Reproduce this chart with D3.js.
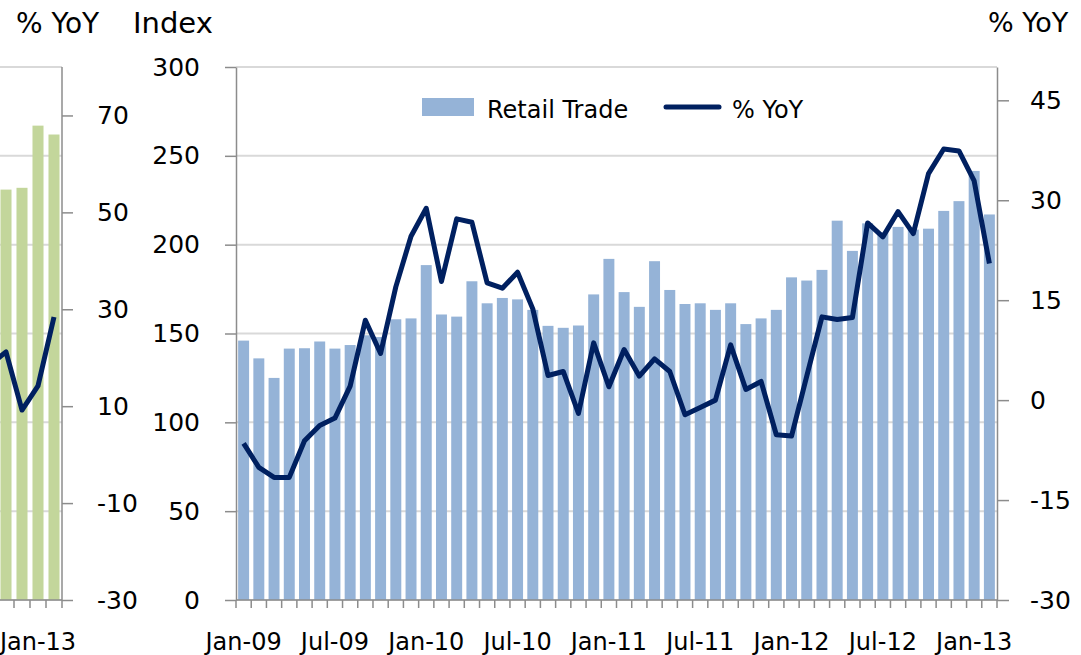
<!DOCTYPE html>
<html>
<head>
<meta charset="utf-8">
<script src="https://cdn.jsdelivr.net/npm/d3@7"></script>
<style>
  body { margin: 0; background: #fff; }
  text { font-family: "DejaVu Sans", sans-serif; fill: #000; }
</style>
</head>
<body>
<div id="chart"></div>
<script>
// main panel data, Jan-09 .. Feb-13
var months = ["Jan-09","Feb-09","Mar-09","Apr-09","May-09","Jun-09","Jul-09","Aug-09","Sep-09","Oct-09","Nov-09","Dec-09",
  "Jan-10","Feb-10","Mar-10","Apr-10","May-10","Jun-10","Jul-10","Aug-10","Sep-10","Oct-10","Nov-10","Dec-10",
  "Jan-11","Feb-11","Mar-11","Apr-11","May-11","Jun-11","Jul-11","Aug-11","Sep-11","Oct-11","Nov-11","Dec-11",
  "Jan-12","Feb-12","Mar-12","Apr-12","May-12","Jun-12","Jul-12","Aug-12","Sep-12","Oct-12","Nov-12","Dec-12",
  "Jan-13","Feb-13"];
var retail = [146, 136, 125, 141.5, 141.7, 145.5, 141.5, 143.5, 149, 148, 158, 158.5,
  188.5, 160.7, 159.5, 179.4, 167, 170, 169.2, 163.3, 154.3, 153.2, 154.5, 172,
  192, 173.3, 165, 190.7, 174.5, 166.6, 167, 163.3, 167, 155.3, 158.5, 163.3,
  181.6, 179.8, 185.8, 213.5, 196.5, 212, 207, 210, 208.5, 209, 219, 224.5,
  241.5, 217];
var yoy = [-6.5, -10.1, -11.6, -11.6, -6.1, -3.8, -2.7, 2.1, 12.0, 7.0, 17.0, 24.6,
  28.8, 17.8, 27.2, 26.7, 17.6, 16.8, 19.2, 13.7, 3.7, 4.3, -2.0, 8.6,
  2.0, 7.6, 3.6, 6.2, 4.3, -2.2, -1.1, 0.0, 8.3, 1.6, 2.8, -5.2,
  -5.4, 3.6, 12.5, 12.1, 12.4, 26.6, 24.5, 28.3, 25.0, 34.0, 37.7, 37.4,
  32.9, 20.5];
var xLabels = ["Jan-09","Jul-09","Jan-10","Jul-10","Jan-11","Jul-11","Jan-12","Jul-12","Jan-13"];
var indexTicks = [0, 50, 100, 150, 200, 250, 300];
var yoyTicks = [-30, -15, 0, 15, 30, 45];

// cut-off panel on the left edge
var leftMonths = ["Oct-12","Nov-12","Dec-12","Jan-13","Feb-13"];
var leftBars = [null, 231, 232, 267, 262];
var leftYoy = [18.5, 21.2, 9.2, 14.2, 28.4];
var leftTicks = [-30, -10, 10, 30, 50, 70];

var width = 1081,
    height = 655,
    plotTop = 67, plotBottom = 600,
    plotLeft = 236, plotRight = 997;

var barColor = "#95b3d7",
    greenColor = "#c3d69b",
    lineColor = "#002060",
    gridColor = "#d9d9d9",
    axisColor = "#8c8c8c";

// plain hyphen for negatives, like the original
var plain = function(d) { return String(d); };

var svg = d3.select("#chart").append("svg")
    .attr("width", width)
    .attr("height", height);

var x = d3.scaleBand().domain(months).range([plotLeft, plotRight])
    .paddingInner(0.28).paddingOuter(0.14);
var yL = d3.scaleLinear().domain([0, 300]).range([plotBottom, plotTop]);
var yR = d3.scaleLinear().domain([-30, 50]).range([plotBottom, plotTop]);

// ---- left cut-off panel ----
var lx = d3.scaleBand().domain(leftMonths).range([-18, 62])
    .paddingInner(0.31).paddingOuter(0.155);
var ly = d3.scaleLinear().domain([0, 300]).range([plotBottom, plotTop]);
var lyR = d3.scaleLinear().domain([-30, 80]).range([plotBottom, plotTop]);

svg.append("g").selectAll("line")
    .data(indexTicks).enter().append("line")
    .attr("x1", 0).attr("x2", 62)
    .attr("y1", function(d) { return ly(d); })
    .attr("y2", function(d) { return ly(d); })
    .attr("stroke", gridColor).attr("stroke-width", 2);

svg.append("g").selectAll("rect")
    .data(leftMonths.filter(function(d, i) { return leftBars[i] != null; }))
    .enter().append("rect")
    .attr("x", function(d) { return lx(d); })
    .attr("width", lx.bandwidth())
    .attr("y", function(d) { return ly(leftBars[leftMonths.indexOf(d)]); })
    .attr("height", function(d) { return plotBottom - ly(leftBars[leftMonths.indexOf(d)]); })
    .attr("fill", greenColor);

var leftLine = d3.line()
    .x(function(d, i) { return lx(leftMonths[i]) + lx.bandwidth() / 2; })
    .y(function(d) { return lyR(d); });

svg.append("path")
    .attr("d", leftLine(leftYoy))
    .attr("fill", "none")
    .attr("stroke", lineColor)
    .attr("stroke-width", 5)
    .attr("stroke-linejoin", "round");

var lAxisR = svg.append("g")
    .attr("transform", "translate(62,0)")
    .call(d3.axisRight(lyR).tickValues(leftTicks).tickFormat(plain)
      .tickSize(11).tickPadding(24).tickSizeOuter(0));
lAxisR.selectAll("text").style("font-size", "25px");
lAxisR.select(".domain").attr("d", "M0," + plotTop + "V" + plotBottom);

// bottom axis of the left panel: ticks at category edges
svg.append("line")
    .attr("x1", 0).attr("x2", 62).attr("y1", plotBottom).attr("y2", plotBottom)
    .attr("stroke", axisColor).attr("stroke-width", 1.5);
svg.append("g").selectAll("line")
    .data(leftMonths).enter().append("line")
    .attr("x1", function(d) { return lx(d) + lx.bandwidth() + lx.step() * lx.paddingInner() / 2; })
    .attr("x2", function(d) { return lx(d) + lx.bandwidth() + lx.step() * lx.paddingInner() / 2; })
    .attr("y1", plotBottom).attr("y2", plotBottom + 8)
    .attr("stroke", axisColor).attr("stroke-width", 1.5);
svg.append("text")
    .attr("x", lx("Jan-13") + lx.bandwidth() / 2)
    .attr("y", 650)
    .attr("text-anchor", "middle")
    .style("font-size", "24px")
    .text("Jan-13");
svg.append("text")
    .attr("x", 16).attr("y", 33)
    .style("font-size", "28px")
    .text("% YoY");

// ---- main panel ----
svg.append("g").selectAll("line")
    .data(indexTicks).enter().append("line")
    .attr("x1", plotLeft).attr("x2", plotRight)
    .attr("y1", function(d) { return yL(d); })
    .attr("y2", function(d) { return yL(d); })
    .attr("stroke", gridColor).attr("stroke-width", 2);

svg.append("g").selectAll("rect")
    .data(months).enter().append("rect")
    .attr("x", function(d) { return x(d); })
    .attr("width", x.bandwidth())
    .attr("y", function(d, i) { return yL(retail[i]); })
    .attr("height", function(d, i) { return plotBottom - yL(retail[i]); })
    .attr("fill", barColor);

var line = d3.line()
    .x(function(d, i) { return x(months[i]) + x.bandwidth() / 2; })
    .y(function(d) { return yR(d); });

svg.append("path")
    .attr("d", line(yoy))
    .attr("fill", "none")
    .attr("stroke", lineColor)
    .attr("stroke-width", 5)
    .attr("stroke-linejoin", "round");

var axisL = svg.append("g")
    .attr("transform", "translate(" + plotLeft + ",0)")
    .call(d3.axisLeft(yL).tickValues(indexTicks).tickFormat(plain)
      .tickSize(11).tickPadding(25).tickSizeOuter(0));
axisL.selectAll("text").style("font-size", "25px");

var axisR = svg.append("g")
    .attr("transform", "translate(" + plotRight + ",0)")
    .call(d3.axisRight(yR).tickValues(yoyTicks).tickFormat(plain)
      .tickSize(12).tickPadding(21).tickSizeOuter(0));
axisR.selectAll("text").style("font-size", "25px");

var axisB = svg.append("g")
    .attr("transform", "translate(0," + plotBottom + ")")
    .call(d3.axisBottom(x).tickValues(xLabels).tickSize(0).tickPadding(33).tickSizeOuter(0));
axisB.selectAll("text").style("font-size", "24px");
axisB.select(".domain").attr("d", "M" + plotLeft + ",0H" + plotRight);

// category edge ticks on the bottom axis
var edges = months.map(function(d) { return x(d) - x.step() * x.paddingInner() / 2; });
edges.push(x(months[months.length - 1]) + x.bandwidth() + x.step() * x.paddingInner() / 2);
svg.append("g").selectAll("line")
    .data(edges).enter().append("line")
    .attr("x1", function(d) { return d; })
    .attr("x2", function(d) { return d; })
    .attr("y1", plotBottom).attr("y2", plotBottom + 8)
    .attr("stroke", axisColor).attr("stroke-width", 1.5);

svg.selectAll(".domain, .tick line")
    .attr("stroke", axisColor).attr("stroke-width", 1.5);
svg.selectAll(".tick text").attr("fill", "#000");

svg.append("text")
    .attr("x", 133).attr("y", 33)
    .style("font-size", "29px")
    .text("Index");
svg.append("text")
    .attr("x", 988).attr("y", 32)
    .style("font-size", "27px")
    .text("% YoY");

// legend
var legend = svg.append("g");
legend.append("rect")
    .attr("x", 422).attr("y", 98).attr("width", 52).attr("height", 18)
    .attr("fill", barColor);
legend.append("text")
    .attr("x", 487).attr("y", 118)
    .style("font-size", "24px")
    .text("Retail Trade");
legend.append("line")
    .attr("x1", 666).attr("x2", 719).attr("y1", 107).attr("y2", 107)
    .attr("stroke", lineColor).attr("stroke-width", 5)
    .attr("stroke-linecap", "round");
legend.append("text")
    .attr("x", 732).attr("y", 118)
    .style("font-size", "24px")
    .text("% YoY");
</script>
</body>
</html>
